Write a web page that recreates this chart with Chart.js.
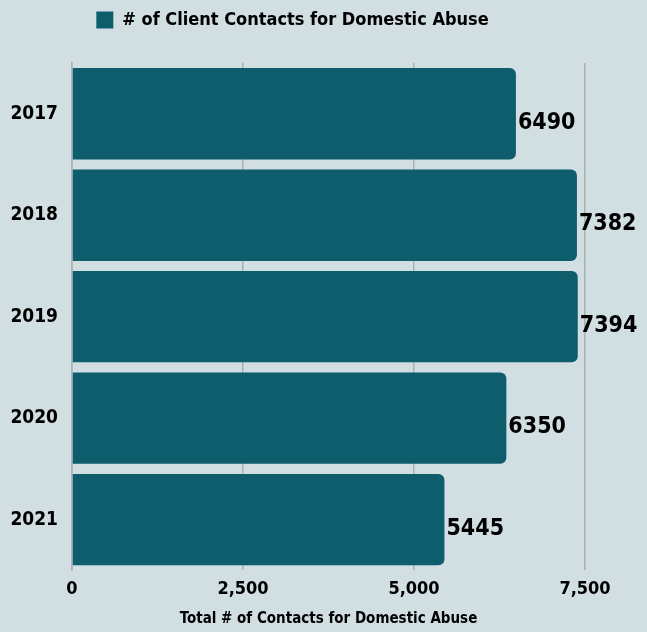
<!DOCTYPE html>
<html>
<head>
<meta charset="utf-8">
<script src="https://cdn.jsdelivr.net/npm/chart.js@4"></script>
<style>
html,body{margin:0;padding:0;background:#d1dee2;}
#wrap{width:647px;height:632px;}
</style>
</head>
<body>
<div id="wrap"><canvas id="chart" width="647" height="632"></canvas></div>
<script>
const years=["2017","2018","2019","2020","2021"];
const contacts=[6490,7382,7394,6350,5445];
const xTicks=[0,2500,5000,7500];

const FONT="'Liberation Sans Narrow','DejaVu Sans Condensed',sans-serif";
const barColor="#0e5d6d";
const gridColor="#a7b2b5";

// value printed just past the end of each bar
const valueLabels={
id:"valueLabels",
afterDatasetsDraw(chart){
const ctx=chart.ctx;
const meta=chart.getDatasetMeta(0);
ctx.save();
ctx.font="bold 23px "+FONT;
ctx.fillStyle="#000";
ctx.textAlign="left";
ctx.textBaseline="middle";
meta.data.forEach((bar,i)=>{
ctx.fillText(String(contacts[i]),bar.x+2,bar.y+9);
});
ctx.restore();
}
};

// extra room under the legend
const legendGap={
id:"legendGap",
beforeInit(chart){
const fit=chart.legend.fit;
chart.legend.fit=function(){
fit.call(this);
this.height+=24;
};
}
};

new Chart(document.getElementById("chart"),{
type:"bar",
data:{
labels:years,
datasets:[{
label:"# of Client Contacts for Domestic Abuse",
data:contacts,
backgroundColor:barColor,
borderRadius:6,
borderSkipped:"start",
barPercentage:0.9,
categoryPercentage:1
}]
},
options:{
indexAxis:"y",
responsive:false,
animation:false,
layout:{padding:{left:0,right:62,top:0,bottom:4}},
plugins:{
legend:{
labels:{
boxWidth:17,
boxHeight:17,
color:"#000",
font:{family:FONT,size:18,weight:"bold"},
padding:11
}
},
tooltip:{enabled:false}
},
scales:{
x:{
min:0,
max:7500,
afterBuildTicks(axis){axis.ticks=xTicks.map(v=>({value:v}));},
grid:{color:gridColor,lineWidth:1.5,drawTicks:false},
border:{display:false},
ticks:{
color:"#000",
padding:8,
font:{family:FONT,size:18,weight:"bold"},
callback:v=>v.toLocaleString("en-US")
},
title:{
display:true,
text:"Total # of Contacts for Domestic Abuse",
color:"#000",
font:{family:FONT,size:15,weight:"bold"},
padding:{top:2,bottom:0}
}
},
y:{
afterFit(axis){axis.width=72;},
grid:{display:false},
border:{display:true,color:gridColor,width:1.5},
ticks:{
color:"#000",
padding:6,
font:{family:FONT,size:19,weight:"bold"}
}
}
}
},
plugins:[valueLabels,legendGap]
});
</script>
</body>
</html>
